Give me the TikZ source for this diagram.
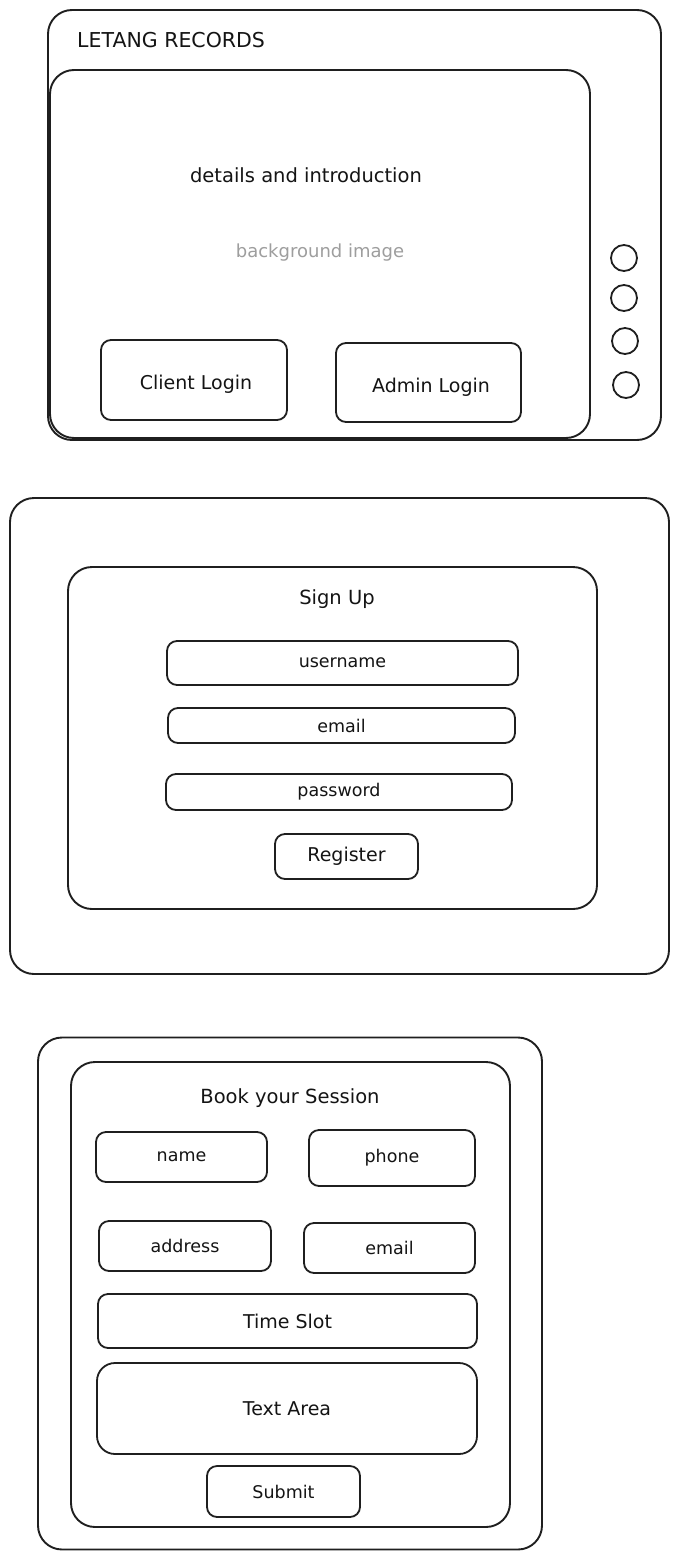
\documentclass[tikz,border=0pt]{standalone}
\usepackage{fontspec}
\setmainfont{DejaVu Sans}
\begin{document}
\begin{tikzpicture}[x=1pt,y=-1pt,
  panel/.style={draw=black!88,line width=1.9pt,rounded corners=24pt,inner sep=0pt},
  field/.style={draw=black!88,line width=1.8pt,rounded corners=10pt,inner sep=0pt,align=center,text=black!92,font=\fontsize{17.5}{21}\selectfont},
  bigfield/.style={field,font=\fontsize{19}{23}\selectfont},
  label/.style={inner sep=0pt,font=\fontsize{19.5}{23}\selectfont,text=black!92},
  dot/.style={draw=black!88,line width=1.8pt,circle,minimum size=26pt,inner sep=0pt}]
\useasboundingbox[fill=white] (0,0) rectangle (679,1560);

% ---------- Landing page ----------
\node[panel,minimum width=613pt,minimum height=430pt] (outerA) at (354.5,225) {};
\node[panel,minimum width=540pt,minimum height=368pt] (innerA) at (320,254) {};
\node[label,anchor=west,font=\fontsize{20.5}{24}\selectfont] (brand) at (77,40) {LETANG RECORDS};
\node[label] (details) at (306,175) {details and introduction};
\node[label,text=black!38,font=\fontsize{18}{21}\selectfont] (bgimg) at (320,253) {background image};
\node[bigfield,minimum width=186pt,minimum height=80pt] (client) at (194,380) {};
\node[label,font=\fontsize{19}{23}\selectfont] (clientText) at (196,384) {Client Login};
\node[bigfield,minimum width=185pt,minimum height=79pt] (admin) at (428.5,382.5) {};
\node[label,font=\fontsize{19}{23}\selectfont] (adminText) at (431,387) {Admin Login};
\node[dot] (d1) at (624,258) {};
\node[dot] (d2) at (624,298) {};
\node[dot] (d3) at (625,341) {};
\node[dot] (d4) at (626,385) {};

% ---------- Sign up ----------
\node[panel,minimum width=659pt,minimum height=476pt] (outerB) at (339.5,736) {};
\node[panel,minimum width=529pt,minimum height=342pt] (innerB) at (332.5,738) {};
\node[label] (signup) at (337,599) {Sign Up};
\node[field,minimum width=351pt,minimum height=44pt] (user) at (342.5,663) {username};
\node[field,minimum width=347pt,minimum height=35pt] (mailB) at (341.5,725.5) {email};
\node[field,minimum width=346pt,minimum height=36pt] (pass) at (339,792) {password};
\node[bigfield,minimum width=143pt,minimum height=45pt] (register) at (346.5,856.5) {Register};

% ---------- Booking ----------
\node[panel,minimum width=504pt,minimum height=512pt] (outerC) at (290,1293.5) {};
\node[panel,minimum width=439pt,minimum height=465pt] (innerC) at (290.5,1294.5) {};
\node[label] (book) at (290,1098) {Book your Session};
\node[field,minimum width=171pt,minimum height=50pt] (name) at (181.5,1157) {name};
\node[field,minimum width=166pt,minimum height=56pt] (phone) at (392,1158) {phone};
\node[field,minimum width=172pt,minimum height=50pt] (address) at (185,1246) {address};
\node[field,minimum width=171pt,minimum height=50pt] (mailC) at (389.5,1248) {email};
\node[bigfield,minimum width=379pt,minimum height=54pt] (slot) at (287.5,1321) {Time Slot};
\node[bigfield,minimum width=380pt,minimum height=91pt,rounded corners=18pt] (area) at (287,1408.5) {Text Area};
\node[field,minimum width=153pt,minimum height=51pt] (submit) at (283.5,1491.5) {Submit};
\end{tikzpicture}
\end{document}
